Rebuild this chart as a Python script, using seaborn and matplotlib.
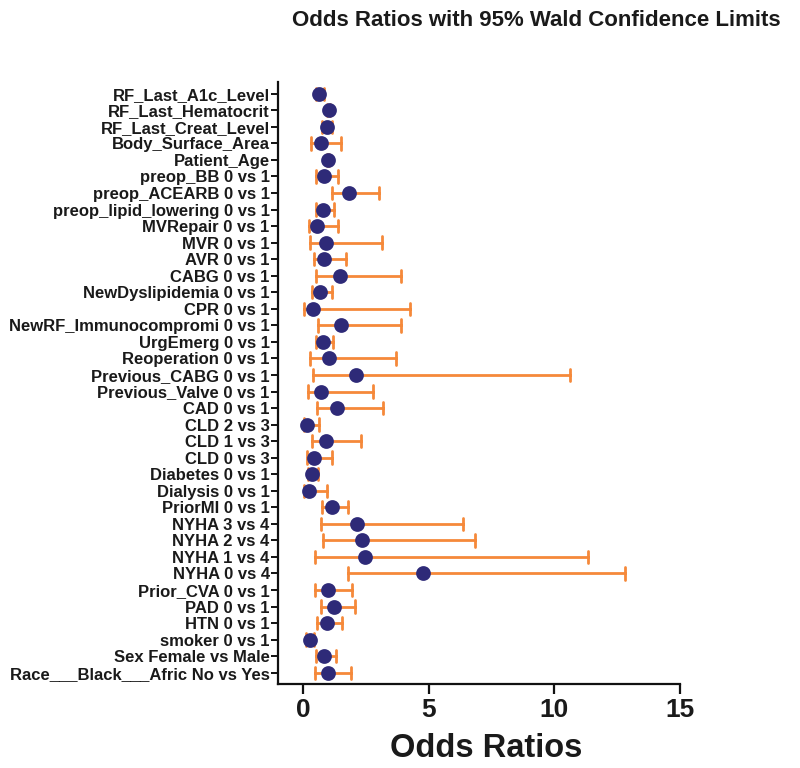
import numpy as np
import pandas as pd
import matplotlib
matplotlib.use("Agg")
import matplotlib.pyplot as plt
import seaborn as sns

labels = [
    "RF_Last_A1c_Level", "RF_Last_Hematocrit", "RF_Last_Creat_Level",
    "Body_Surface_Area", "Patient_Age", "preop_BB 0 vs 1",
    "preop_ACEARB 0 vs 1", "preop_lipid_lowering 0 vs 1", "MVRepair 0 vs 1",
    "MVR 0 vs 1", "AVR 0 vs 1", "CABG 0 vs 1", "NewDyslipidemia 0 vs 1",
    "CPR 0 vs 1", "NewRF_Immunocompromi 0 vs 1", "UrgEmerg 0 vs 1",
    "Reoperation 0 vs 1", "Previous_CABG 0 vs 1", "Previous_Valve 0 vs 1",
    "CAD 0 vs 1", "CLD 2 vs 3", "CLD 1 vs 3", "CLD 0 vs 3",
    "Diabetes 0 vs 1", "Dialysis 0 vs 1", "PriorMI 0 vs 1",
    "NYHA 3 vs 4", "NYHA 2 vs 4", "NYHA 1 vs 4", "NYHA 0 vs 4",
    "Prior_CVA 0 vs 1", "PAD 0 vs 1", "HTN 0 vs 1", "smoker 0 vs 1",
    "Sex Female vs Male", "Race___Black___Afric No vs Yes",
]
odds_ratio = [0.62, 1.01, 0.94, 0.72, 1.00, 0.85, 1.82, 0.78, 0.57, 0.93,
              0.85, 1.45, 0.66, 0.39, 1.51, 0.78, 1.02, 2.11, 0.72, 1.33,
              0.14, 0.90, 0.45, 0.35, 0.24, 1.14, 2.16, 2.35, 2.46, 4.79,
              1.00, 1.21, 0.96, 0.28, 0.82, 0.98]
ci_low = [0.52, 0.96, 0.76, 0.32, 0.97, 0.53, 1.13, 0.50, 0.24, 0.27,
          0.44, 0.53, 0.37, 0.03, 0.60, 0.52, 0.29, 0.40, 0.20, 0.56,
          0.03, 0.35, 0.17, 0.19, 0.04, 0.76, 0.73, 0.78, 0.49, 1.79,
          0.49, 0.72, 0.57, 0.12, 0.52, 0.46]
ci_high = [0.82, 1.06, 1.16, 1.51, 1.03, 1.39, 3.00, 1.21, 1.37, 3.15,
           1.71, 3.88, 1.14, 4.25, 3.90, 1.18, 3.69, 10.62, 2.80, 3.17,
           0.65, 2.32, 1.13, 0.58, 0.94, 1.77, 6.36, 6.85, 11.35, 12.83,
           1.94, 2.05, 1.53, 0.42, 1.30, 1.89]
x_ticks = [0, 5, 10, 15]

# long form: each term has its lower limit, estimate and upper limit;
# median gives the estimate and the 100% percentile interval gives the CI
df = pd.DataFrame({
    "term": labels * 3,
    "value": ci_low + odds_ratio + ci_high,
})

sns.set_style("ticks")
plt.rcParams["font.family"] = ["Liberation Sans", "DejaVu Sans"]
plt.rcParams["font.weight"] = "bold"

dot_color = "#2E2A78"
bar_color = "#F5893A"
text_color = "#1a1a1a"

fig = plt.figure(figsize=(8, 7.68), dpi=100)
ax = fig.add_axes([0.3475, 0.109, 0.5025, 0.784])

sns.pointplot(
    data=df, x="value", y="term", order=labels,
    estimator="median", errorbar=("pi", 100),
    orient="h", linestyle="none", marker="o", markersize=8.6,
    color=dot_color, capsize=0.75,
    err_kws={"color": bar_color, "linewidth": 2.0, "zorder": 1},
    ax=ax,
)
for line in ax.lines:
    if line.get_marker() == "o":
        line.set_zorder(3)

ax.set_xlim(-1, 15)
ax.set_ylim(len(labels) - 1 + 0.7, -0.7)
ax.set_xticks(x_ticks)
ax.set_xticklabels([str(t) for t in x_ticks])

for side in ["top", "right"]:
    ax.spines[side].set_visible(False)
for side in ["left", "bottom"]:
    ax.spines[side].set_linewidth(1.6)
    ax.spines[side].set_color("#111111")

ax.tick_params(axis="y", length=5, width=1.4, labelsize=12,
               labelcolor=text_color, pad=1, color="#111111")
ax.tick_params(axis="x", length=7, width=1.6, labelsize=19,
               labelcolor=text_color, pad=3, color="#111111")
for lab in ax.get_yticklabels() + ax.get_xticklabels():
    lab.set_fontweight("bold")

ax.set_ylabel("")
ax.set_xlabel("Odds Ratios", fontsize=23.5, fontweight="bold",
              color=text_color, labelpad=8)
ax.xaxis.label.set_x(0.517)

fig.text(0.671, 1 - 21 / 768, "Odds Ratios with 95% Wald Confidence Limits",
         ha="center", va="center", fontsize=16, fontweight="bold",
         color=text_color)

fig.savefig("out.png", dpi=100, facecolor="white")
